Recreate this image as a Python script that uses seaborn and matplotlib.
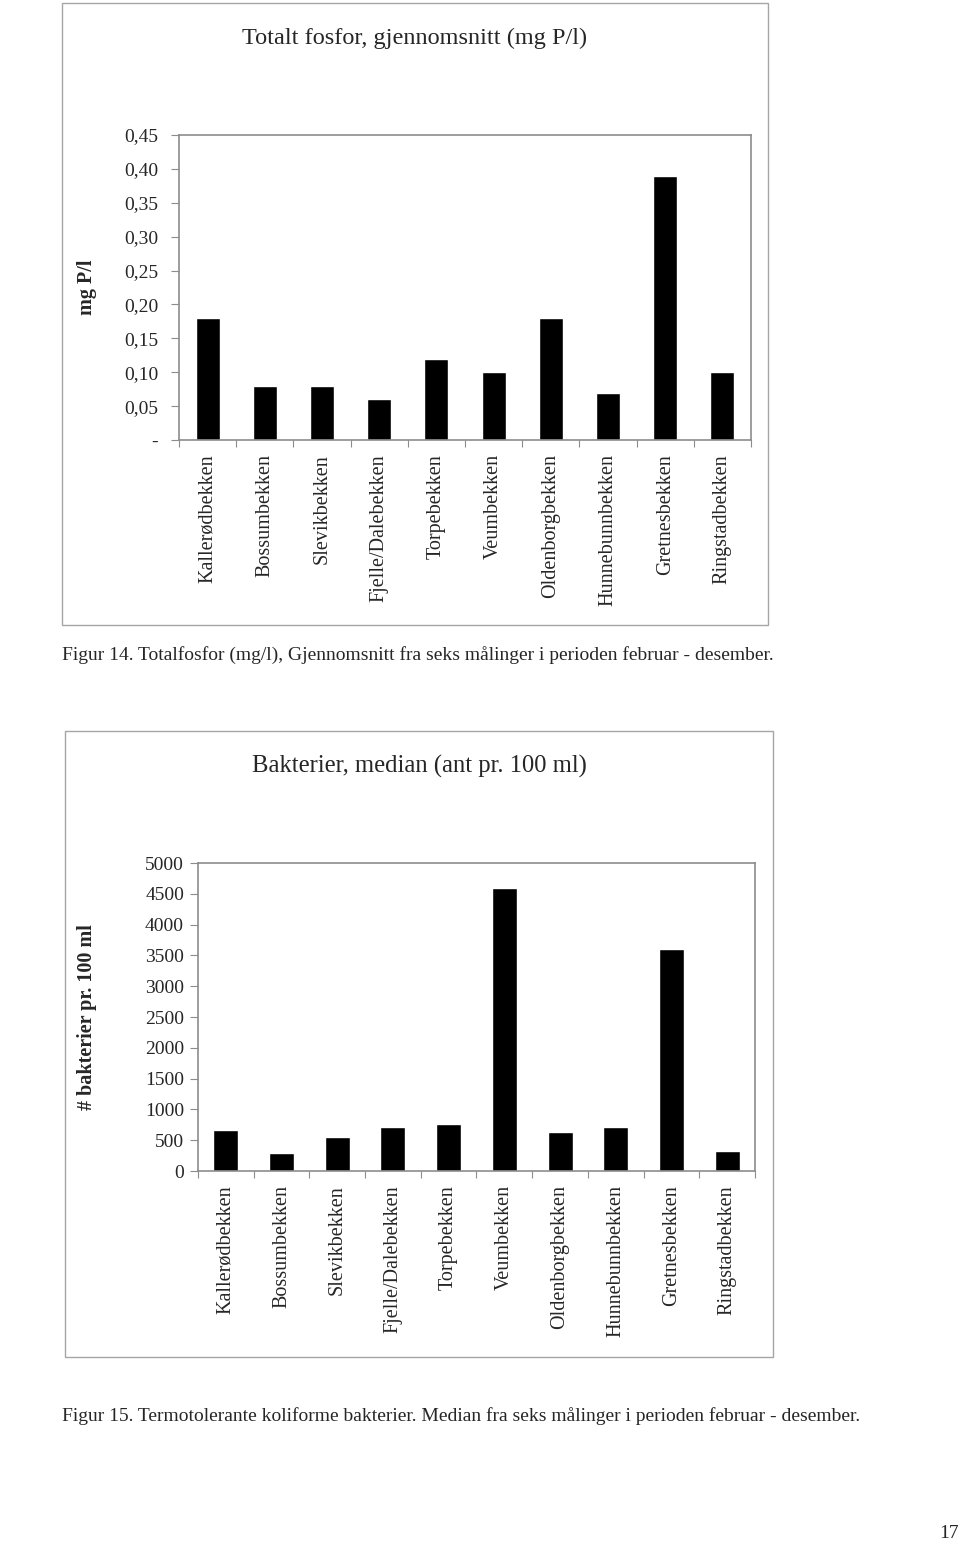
import matplotlib
matplotlib.use("Agg")
import matplotlib.pyplot as plt
import seaborn as sns
import pandas as pd
from matplotlib.patches import Rectangle
from matplotlib.ticker import FuncFormatter, FixedLocator

sns.set_theme(style="white")
plt.rcParams['font.family'] = ['Liberation Serif', 'DejaVu Serif']

# ---- data ----
streams = ["Kallerødbekken", "Bossumbekken", "Slevikbekken", "Fjelle/Dalebekken",
           "Torpebekken", "Veumbekken", "Oldenborgbekken", "Hunnebunnbekken",
           "Gretnesbekken", "Ringstadbekken"]
phosphorus = [0.18, 0.08, 0.08, 0.06, 0.12, 0.10, 0.18, 0.07, 0.39, 0.10]
bacteria = [660, 290, 550, 720, 770, 4600, 640, 710, 3600, 320]
p_ticks = [0, 0.05, 0.10, 0.15, 0.20, 0.25, 0.30, 0.35, 0.40, 0.45]
b_ticks = [0, 500, 1000, 1500, 2000, 2500, 3000, 3500, 4000, 4500, 5000]

title1 = "Totalt fosfor, gjennomsnitt (mg P/l)"
title2 = "Bakterier, median (ant pr. 100 ml)"
ylabel1 = "mg P/l"
ylabel2 = "# bakterier pr. 100 ml"
caption1 = "Figur 14. Totalfosfor (mg/l), Gjennomsnitt fra seks målinger i perioden februar - desember."
caption2 = "Figur 15. Termotolerante koliforme bakterier. Median fra seks målinger i perioden februar - desember."
page_no = "17"

W, H = 960, 1543
fig = plt.figure(figsize=(W / 100, H / 100), dpi=100)
fig.patch.set_facecolor("white")


def rect(x0, y0, x1, y1):
    return [x0 / W, 1 - y1 / H, (x1 - x0) / W, (y1 - y0) / H]


def fx(x):
    return x / W


def fy(y):
    return 1 - y / H


GRAY = "#8c8c8c"
FS_TICK = 14
FS_CAT = 14.5
FS_CAP = 14
FS_LAB = 14.5

# outer frames
for (x0, y0, x1, y1) in [(62, 3, 768, 625), (65, 731, 773, 1357)]:
    fig.patches.append(Rectangle((fx(x0), fy(y1)), (x1 - x0) / W, (y1 - y0) / H,
                                 transform=fig.transFigure, fill=False,
                                 edgecolor="#a6a6a6", linewidth=1.0))


def style_axis(ax, ticks, fmt, ymax, ylabel, lab_x, pad_y):
    ax.set_ylim(0, ymax)
    ax.set_xlim(-0.5, len(streams) - 0.5)
    ax.yaxis.set_major_locator(FixedLocator(ticks))
    ax.yaxis.set_major_formatter(FuncFormatter(fmt))
    ax.xaxis.set_minor_locator(FixedLocator([i - 0.5 for i in range(len(streams) + 1)]))
    ax.tick_params(axis="x", which="major", length=0, pad=10, labelsize=FS_CAT, labelrotation=90)
    ax.tick_params(axis="x", which="minor", length=5, width=0.8, color=GRAY, direction="out", bottom=True)
    ax.tick_params(axis="y", which="major", length=6, width=0.8, color=GRAY, direction="out",
                   left=True, pad=pad_y, labelsize=FS_TICK)
    for s in ax.spines.values():
        s.set_visible(True)
        s.set_color(GRAY)
        s.set_linewidth(1.2)
    ax.set_xlabel("")
    ax.set_ylabel(ylabel, fontsize=FS_LAB, fontweight="bold")
    ax.yaxis.set_label_coords(lab_x, 0.5)
    ax.grid(False)


# ---- chart 1 ----
ax1 = fig.add_axes(rect(179, 135, 751, 440))
df1 = pd.DataFrame({"bekk": streams, "val": phosphorus})
sns.barplot(data=df1, x="bekk", y="val", color="black", saturation=1, width=0.42, ax=ax1)
style_axis(ax1, p_ticks, lambda v, p: "-" if v == 0 else f"{v:.2f}".replace(".", ","),
           0.45, ylabel1, (97 - 179) / 572, 9)
fig.text(fx(415), fy(38), title1, ha="center", va="center", fontsize=17.5)
fig.text(fx(62), fy(655), caption1, ha="left", va="center", fontsize=FS_CAP)

# ---- chart 2 ----
ax2 = fig.add_axes(rect(198, 863, 755, 1171))
df2 = pd.DataFrame({"bekk": streams, "val": bacteria})
sns.barplot(data=df2, x="bekk", y="val", color="black", saturation=1, width=0.45, ax=ax2)
style_axis(ax2, b_ticks, lambda v, p: f"{int(v)}", 5000, ylabel2, (97 - 198) / 557, 4)
fig.text(fx(419), fy(766), title2, ha="center", va="center", fontsize=17.7)
fig.text(fx(62), fy(1416), caption2, ha="left", va="center", fontsize=FS_CAP)

fig.text(fx(949), fy(1533), page_no, ha="center", va="center", fontsize=FS_CAP)

fig.savefig("out.png", dpi=100, facecolor="white")
